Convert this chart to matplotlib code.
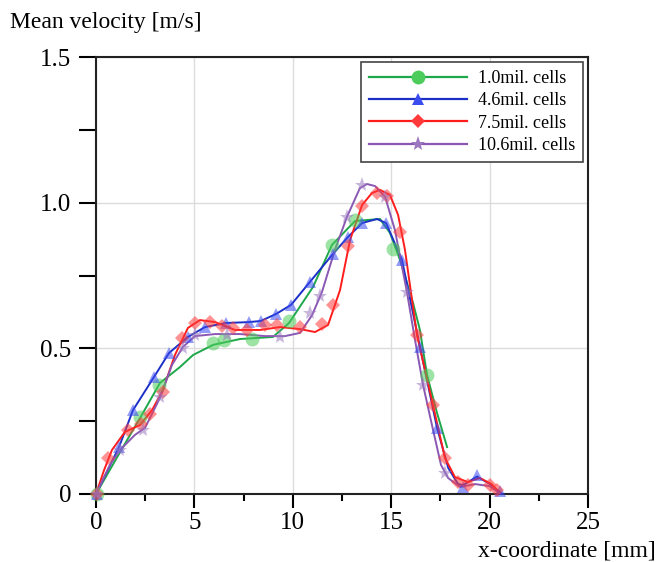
import matplotlib
matplotlib.use("Agg")
import matplotlib.pyplot as plt
from matplotlib.ticker import MultipleLocator
from matplotlib.lines import Line2D

plt.rcParams['font.family'] = ['Liberation Serif', 'DejaVu Serif']

# ---------------- data ----------------
labels = ["1.0mil. cells", "4.6mil. cells", "7.5mil. cells", "10.6mil. cells"]

# 1.0 mil cells (green)
g_line_x = [0, 1.37, 2.24, 3.25, 4.27, 4.93, 5.95, 7.32, 8.99, 9.81, 11.03, 11.99, 13.16, 14.43, 14.94, 15.45, 16.11, 16.46, 16.82, 17.33, 17.84]
g_line_y = [0, 0.161, 0.261, 0.381, 0.436, 0.477, 0.512, 0.532, 0.539, 0.587, 0.711, 0.855, 0.937, 0.944, 0.896, 0.803, 0.656, 0.563, 0.409, 0.278, 0.161]
g_mk_x = [0.05, 2.24, 3.20, 5.95, 6.50, 7.93, 9.81, 11.99, 13.16, 15.09, 16.82]
g_mk_y = [0, 0.264, 0.374, 0.518, 0.529, 0.532, 0.594, 0.855, 0.941, 0.841, 0.409]

# 4.6 mil cells (blue)
b_line_x = [0, 1.17, 1.88, 2.95, 3.71, 4.67, 5.54, 6.61, 7.77, 8.38, 9.15, 9.91, 10.87, 12.04, 12.80, 13.52, 14.28, 14.74, 15.55, 16.46, 17.33, 17.9, 18.4, 18.65, 19.36, 20.0, 20.6]
b_line_y = [0, 0.161, 0.288, 0.402, 0.484, 0.539, 0.573, 0.587, 0.590, 0.594, 0.618, 0.649, 0.728, 0.824, 0.882, 0.930, 0.944, 0.930, 0.803, 0.505, 0.227, 0.089, 0.034, 0.030, 0.060, 0.035, 0.002]
b_mk_x = [0.05, 1.17, 1.88, 2.95, 3.71, 4.67, 5.54, 6.61, 7.77, 8.38, 9.15, 9.91, 10.87, 12.04, 12.80, 13.52, 14.74, 15.55, 16.46, 17.33, 18.65, 19.36, 20.53]
b_mk_y = [0, 0.161, 0.288, 0.402, 0.484, 0.539, 0.573, 0.587, 0.590, 0.594, 0.618, 0.649, 0.728, 0.824, 0.882, 0.930, 0.930, 0.803, 0.505, 0.227, 0.024, 0.065, 0.010]

# 7.5 mil cells (red)
r_line_x = [0, 0.41, 0.81, 1.47, 2.24, 2.85, 3.40, 4.01, 4.67, 5.28, 6.05, 7.06, 8.33, 9.35, 10.37, 11.13, 11.79, 12.40, 12.91, 13.52, 14.02, 14.43, 14.94, 15.35, 15.70, 16.31, 17.12, 17.73, 18.24, 18.9, 19.5, 20.1, 20.5]
r_line_y = [0, 0.082, 0.151, 0.213, 0.237, 0.288, 0.357, 0.477, 0.570, 0.597, 0.590, 0.563, 0.563, 0.573, 0.566, 0.556, 0.580, 0.700, 0.872, 0.992, 1.033, 1.044, 1.026, 0.958, 0.838, 0.546, 0.306, 0.124, 0.058, 0.041, 0.055, 0.034, 0.003]
r_mk_x = [0.05, 0.61, 1.63, 2.29, 2.74, 3.40, 4.37, 5.03, 5.79, 6.40, 6.96, 7.67, 8.59, 9.20, 10.37, 11.48, 12.04, 12.80, 13.52, 14.28, 14.79, 15.45, 16.31, 17.12, 17.73, 18.39, 18.90, 20.02, 20.38]
r_mk_y = [0, 0.124, 0.220, 0.240, 0.275, 0.350, 0.536, 0.587, 0.590, 0.577, 0.570, 0.563, 0.580, 0.580, 0.573, 0.584, 0.649, 0.851, 0.989, 1.033, 1.023, 0.899, 0.546, 0.306, 0.124, 0.041, 0.031, 0.031, 0.014]

# 10.6 mil cells (purple)
p_line_x = [0, 0.71, 1.22, 1.98, 2.49, 3.25, 3.86, 4.42, 5.03, 6.05, 7.32, 8.59, 9.60, 10.37, 10.98, 11.48, 12.14, 12.75, 13.41, 13.77, 14.18, 14.69, 15.19, 15.80, 16.21, 16.62, 17.07, 17.53, 17.89, 18.5, 19.26, 20.0, 20.5]
p_line_y = [0, 0.100, 0.151, 0.203, 0.227, 0.330, 0.443, 0.505, 0.542, 0.549, 0.549, 0.542, 0.542, 0.553, 0.614, 0.693, 0.838, 0.951, 1.050, 1.064, 1.057, 1.020, 0.906, 0.693, 0.529, 0.374, 0.237, 0.100, 0.055, 0.024, 0.034, 0.027, 0.003]
p_mk_x = [0.05, 1.22, 2.39, 3.25, 4.42, 5.03, 6.66, 9.35, 10.87, 11.38, 12.75, 13.52, 14.69, 15.80, 16.62, 17.73]
p_mk_y = [0, 0.151, 0.220, 0.333, 0.501, 0.546, 0.546, 0.539, 0.621, 0.680, 0.951, 1.061, 1.020, 0.693, 0.374, 0.072]

x_ticks = [0, 5, 10, 15, 20, 25]
y_ticks = [0, 0.5, 1.0, 1.5]
y_ticklabels = ["0", "0.5", "1.0", "1.5"]

# ---------------- styles ----------------
series = [
    (g_line_x, g_line_y, g_mk_x, g_mk_y, '#1ea84a', '#4ccc5a', 'o', 10),
    (b_line_x, b_line_y, b_mk_x, b_mk_y, '#1c30c8', '#3a4cf0', '^', 9),
    (r_line_x, r_line_y, r_mk_x, r_mk_y, '#ff1c1c', '#ff3a3a', 'D', 7.5),
    (p_line_x, p_line_y, p_mk_x, p_mk_y, '#8a58b4', '#9c78c0', '*', 11),
]

fig = plt.figure(figsize=(6.64, 5.62), dpi=100)
ax = fig.add_axes([96/664, 68/562, 492/664, 437/562])

handles = []
for lx, ly, mx, my, lc, mc, mk, ms in series:
    ax.plot(lx, ly, color=lc, lw=1.4, zorder=3, clip_on=False)
    ax.plot(mx, my, ls='none', marker=mk, ms=ms, color=mc, alpha=0.55,
            markeredgewidth=0, zorder=4, clip_on=False)
    handles.append(Line2D([], [], color=lc, lw=1.6, marker=mk, ms=ms,
                          markerfacecolor=mc, markeredgewidth=0))

ax.set_xlim(0, 25)
ax.set_ylim(0, 1.5)
ax.set_xticks(x_ticks)
ax.set_xticklabels([str(t) for t in x_ticks])
ax.set_yticks(y_ticks)
ax.set_yticklabels(y_ticklabels)
ax.xaxis.set_minor_locator(MultipleLocator(2.5))
ax.yaxis.set_minor_locator(MultipleLocator(0.25))
ax.tick_params(axis='x', which='major', direction='out', length=10, width=1.5, pad=3, labelsize=18)
ax.tick_params(axis='x', which='minor', direction='out', length=5, width=1.5)
ax.tick_params(axis='y', which='both', direction='out', length=12, width=1.5, pad=6, labelsize=18)
for s in ax.spines.values():
    s.set_linewidth(1.5)
    s.set_color('#222222')
ax.grid(True, which='major', color='#dcdcdc', lw=1)
ax.set_axisbelow(True)

leg = ax.legend(handles, labels, loc='upper right', bbox_to_anchor=(0.99, 0.989),
                borderaxespad=0, fancybox=False, framealpha=1, edgecolor='#444444',
                fontsize=13, handlelength=5.4, handletextpad=0.6, labelspacing=0.3,
                borderpad=0.45, numpoints=1)
leg.get_frame().set_linewidth(1.2)

fig.text(10/664, 1 - 28/562, "Mean velocity [m/s]", fontsize=17, ha='left', va='baseline')
fig.text(478/664, 1 - 556/562, "x-coordinate [mm]", fontsize=17, ha='left', va='baseline')

fig.savefig("out.png", dpi=100)
